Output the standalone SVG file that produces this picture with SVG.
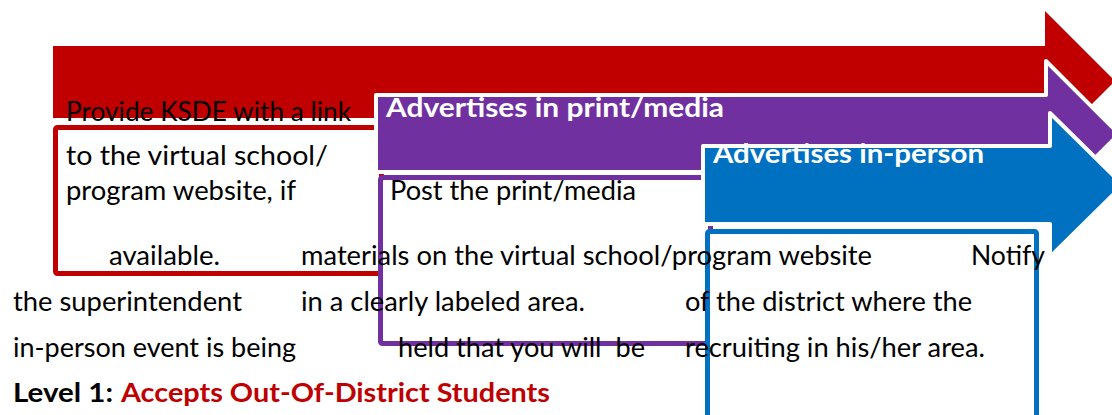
<svg xmlns="http://www.w3.org/2000/svg" width="1112" height="415" viewBox="0 0 1112 415">
<style>
.t{font-family:Lato,"Open Sans","Liberation Sans",sans-serif;font-size:26px;fill:#000}
.w{font-family:Lato,"Open Sans","Liberation Sans",sans-serif;font-size:26px;font-weight:bold;fill:#fff}
.b{font-family:Lato,"Open Sans","Liberation Sans",sans-serif;font-size:26px;font-weight:bold}
.box{fill:#fff;stroke-width:5;stroke-linejoin:round}
.arr{stroke:#fff;stroke-width:4;stroke-linejoin:round}
</style>
<rect width="1112" height="415" fill="#fff"/>
<g id="red">
<polygon points="53,46 1045,46 1045,11 1115,81 1045,151 1045,118 53,118" fill="#C00000"/>
<rect class="box" x="55.5" y="127.5" width="326" height="146" rx="2" stroke="#C00000"/>
</g>
<g id="purple">
<polygon class="arr" points="376,95 1046,95 1046,61 1119,134 1046,207 1046,172 376,172" fill="#7030A0"/>
<rect class="box" x="380.5" y="177.5" width="330" height="166" rx="2" stroke="#7030A0"/>
</g>
<g id="blue">
<polygon class="arr" points="703,146 1050,146 1050,113 1123,185 1050,257 1050,224 703,224" fill="#0070C0"/>
<rect class="box" x="707.5" y="231.5" width="329" height="210" rx="2" stroke="#0070C0"/>
</g>
<g id="texts">
<text class="t" x="66" y="121" textLength="285" lengthAdjust="spacingAndGlyphs">Provide KSDE with a link</text>
<text class="t" x="66" y="165" textLength="262" lengthAdjust="spacingAndGlyphs">to the virtual school/</text>
<text class="t" x="66" y="200" textLength="230" lengthAdjust="spacingAndGlyphs">program website, if</text>
<text class="t" x="109" y="265" textLength="111" lengthAdjust="spacingAndGlyphs">available.</text>
<text class="t" x="390" y="200" textLength="246" lengthAdjust="spacingAndGlyphs">Post the print/media</text>
<text class="t" x="301" y="265" textLength="571" lengthAdjust="spacingAndGlyphs">materials on the virtual school/program website</text>
<text class="t" x="971" y="265" textLength="74" lengthAdjust="spacingAndGlyphs">Notify</text>
<text class="t" x="13" y="311" textLength="229" lengthAdjust="spacingAndGlyphs">the superintendent</text>
<text class="t" x="301" y="311" textLength="284" lengthAdjust="spacingAndGlyphs">in a clearly labeled area.</text>
<text class="t" x="685" y="311" textLength="287" lengthAdjust="spacingAndGlyphs">of the district where the</text>
<text class="t" x="13" y="357" textLength="283" lengthAdjust="spacingAndGlyphs">in-person event is being</text>
<text class="t" x="398" y="357" textLength="247" lengthAdjust="spacingAndGlyphs" xml:space="preserve">held that you will  be</text>
<text class="t" x="685" y="357" textLength="300" lengthAdjust="spacingAndGlyphs">recruiting in his/her area.</text>
<text class="w" x="386" y="117" textLength="338" lengthAdjust="spacingAndGlyphs">Advertises in print/media</text>
<text class="w" x="713" y="163" textLength="271" lengthAdjust="spacingAndGlyphs">Advertises in-person</text>
<text class="b" x="13" y="402" fill="#000" textLength="100" lengthAdjust="spacingAndGlyphs">Level 1:</text>
<text class="b" x="121" y="402" fill="#C00000" textLength="429" lengthAdjust="spacingAndGlyphs">Accepts Out-Of-District Students</text>
</g>
</svg>
